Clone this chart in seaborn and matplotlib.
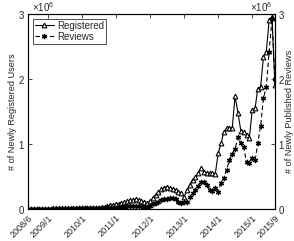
import pandas as pd
import matplotlib.pyplot as plt
import matplotlib.ticker as mticker
import seaborn as sns

# monthly counts, in millions, 2008/6 .. 2015/9
registered = [
    0.003, 0.004, 0.004, 0.005, 0.005, 0.005, 0.006, 0.006, 0.006, 0.007,
    0.007, 0.007, 0.008, 0.008, 0.008, 0.009, 0.009, 0.010, 0.010, 0.011,
    0.012, 0.013, 0.014, 0.016, 0.018, 0.022, 0.028, 0.035, 0.045, 0.055,
    0.060, 0.070, 0.080, 0.090, 0.110, 0.120, 0.130, 0.140, 0.150, 0.140,
    0.120, 0.100, 0.090, 0.120, 0.170, 0.220, 0.260, 0.300, 0.330, 0.340,
    0.320, 0.310, 0.290, 0.260, 0.240, 0.190, 0.290, 0.370, 0.450, 0.490,
    0.550, 0.630, 0.570, 0.550, 0.550, 0.550, 0.540, 0.860, 1.010, 1.180,
    1.240, 1.240, 1.250, 1.740, 1.480, 1.200, 1.180, 1.140, 1.090, 1.520,
    1.550, 1.850, 1.880, 2.340, 2.420, 2.900, 2.960, 1.900,
]
reviews = [
    0.002, 0.002, 0.002, 0.003, 0.003, 0.003, 0.003, 0.004, 0.004, 0.004,
    0.004, 0.005, 0.005, 0.005, 0.005, 0.006, 0.006, 0.006, 0.007, 0.007,
    0.008, 0.008, 0.009, 0.010, 0.011, 0.012, 0.013, 0.015, 0.017, 0.018,
    0.020, 0.022, 0.025, 0.030, 0.035, 0.040, 0.045, 0.050, 0.050, 0.045,
    0.040, 0.035, 0.035, 0.050, 0.070, 0.090, 0.110, 0.130, 0.150, 0.160,
    0.170, 0.170, 0.150, 0.110, 0.090, 0.100, 0.110, 0.180, 0.240, 0.290,
    0.360, 0.420, 0.410, 0.370, 0.290, 0.280, 0.320, 0.260, 0.400, 0.470,
    0.600, 0.750, 0.850, 0.920, 1.110, 1.010, 0.950, 0.720, 0.700, 0.780,
    0.750, 1.010, 1.280, 1.700, 1.880, 2.420, 2.920, 2.000,
]
tick_labels = ['2008/6', '2009/1', '2010/1', '2011/1', '2012/1',
               '2013/1', '2014/1', '2015/1', '2015/9']

months = pd.date_range('2008-06-01', '2015-09-01', freq='MS')
df = pd.DataFrame({'month': months,
                   'Registered': [v * 1e6 for v in registered],
                   'Reviews': [v * 1e6 for v in reviews]})

sns.set_theme(style='white')
plt.rcParams['font.family'] = ['Liberation Sans', 'DejaVu Sans']
plt.rcParams['mathtext.fontset'] = 'custom'
plt.rcParams['mathtext.rm'] = 'Liberation Sans'

fig = plt.figure(figsize=(2.94, 2.41), dpi=100)
ax = fig.add_axes([0.095, 0.133, 0.84, 0.809])
ax2 = ax.twinx()

sns.lineplot(data=df, x='month', y='Registered', ax=ax, color='black',
             label='Registered', legend=False)
sns.lineplot(data=df, x='month', y='Reviews', ax=ax2, color='black',
             label='Reviews', legend=False)

# style the lines after seaborn has drawn them
reg_line = ax.get_lines()[0]
reg_line.set_linewidth(0.8)
reg_line.set_marker('^')
reg_line.set_markersize(3.4)
reg_line.set_markerfacecolor('white')
reg_line.set_markeredgecolor('black')
reg_line.set_markeredgewidth(0.8)

rev_line = ax2.get_lines()[0]
rev_line.set_linewidth(0.8)
rev_line.set_dashes((4, 2.5))
rev_line.set_marker((6, 2, 0))
rev_line.set_markersize(3.8)
rev_line.set_markeredgecolor('black')
rev_line.set_markeredgewidth(0.9)

tick_dates = pd.to_datetime([t.replace('/', '-') + '-01' for t in tick_labels])
for a in (ax, ax2):
    a.set_ylim(0, 3e6)
    a.set_yticks([0, 1e6, 2e6, 3e6])
    fmt = mticker.ScalarFormatter(useMathText=True)
    fmt.set_powerlimits((0, 0))
    a.yaxis.set_major_formatter(fmt)
    a.yaxis.get_offset_text().set_visible(False)
    a.tick_params(direction='in', length=3, width=0.6, pad=2, labelsize=7)
    for s in a.spines.values():
        s.set_linewidth(0.8)
        s.set_color('black')

ax.text(0.015, 1.0, r'$\times10^6$', transform=ax.transAxes,
        ha='left', va='bottom', fontsize=7)
ax.text(0.99, 1.0, r'$\times10^6$', transform=ax.transAxes,
        ha='right', va='bottom', fontsize=7)

ax.set_xlim(months[0], months[-1])
ax.set_xticks(tick_dates)
ax.set_xticklabels(tick_labels, rotation=45, ha='right',
                   rotation_mode='anchor', fontsize=6.5)
ax.tick_params(axis='x', top=True, pad=3)
ax.set_xlabel('')
ax.set_ylabel('# of Newly Registered Users', fontsize=6.6, labelpad=1)
ax2.set_ylabel('# of Newly Published Reviews', fontsize=6.6, labelpad=0)

h1, l1 = ax.get_legend_handles_labels()
h2, l2 = ax2.get_legend_handles_labels()
leg = ax.legend(h1 + h2, l1 + l2, loc='upper left', fontsize=7,
                frameon=True, fancybox=False, edgecolor='black',
                borderpad=0.2, labelspacing=0.1, handlelength=2.0,
                handletextpad=0.3, borderaxespad=0.5)
leg.get_frame().set_linewidth(0.6)

fig.savefig('out.png', dpi=100)
